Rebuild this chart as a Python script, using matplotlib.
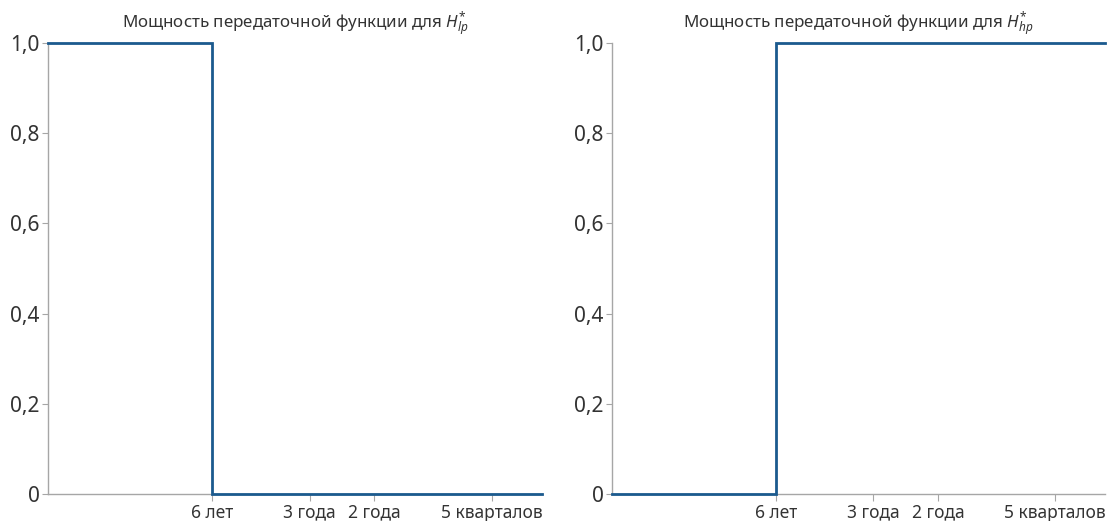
import matplotlib
matplotlib.use("Agg")
import matplotlib.pyplot as plt

plt.rcParams['font.family'] = ['Noto Sans', 'DejaVu Sans']
plt.rcParams['mathtext.fontset'] = 'custom'
plt.rcParams['mathtext.it'] = 'Noto Sans:italic'
plt.rcParams['mathtext.rm'] = 'Noto Sans'

# x axis positions on a 0..1 scale (category-like axis, as in the source)
tick_pos = [0.333, 0.530, 0.661, 0.899]
tick_labels = ["6 лет", "3 года", "2 года", "5 кварталов"]
x_min, x_max = 0.0, 1.0
cutoff = tick_pos[0]

lp_x = [x_min, cutoff, cutoff, x_max]
lp_y = [1.0, 1.0, 0.0, 0.0]
hp_x = [x_min, cutoff, cutoff, x_max]
hp_y = [0.0, 0.0, 1.0, 1.0]

y_ticks = [0, 0.2, 0.4, 0.6, 0.8, 1.0]
y_labels = ["0", "0,2", "0,4", "0,6", "0,8", "1,0"]

titles = [r"Мощность передаточной функции для $H^{*}_{lp}$",
          r"Мощность передаточной функции для $H^{*}_{hp}$"]

line_color = "#1b5a8e"
axis_color = "#a6a6a6"
text_color = "#333333"

fig = plt.figure(figsize=(11.11, 5.21), dpi=100)
ax1 = fig.add_axes([0.0432, 0.0518, 0.4446, 0.8657])
ax2 = fig.add_axes([0.5509, 0.0518, 0.4437, 0.8657])

for ax, xs, ys, title in [(ax1, lp_x, lp_y, titles[0]), (ax2, hp_x, hp_y, titles[1])]:
    ax.plot(xs, ys, color=line_color, lw=2.0, clip_on=False, solid_joinstyle='miter', zorder=3)
    ax.set_xlim(x_min, x_max)
    ax.set_ylim(0, 1.0)
    ax.set_xticks(tick_pos)
    ax.set_xticklabels(tick_labels, fontsize=12.5, color=text_color)
    ax.set_yticks(y_ticks)
    ax.set_yticklabels(y_labels, fontsize=15, color=text_color)
    for s in ["top", "right"]:
        ax.spines[s].set_visible(False)
    for s in ["left", "bottom"]:
        ax.spines[s].set_color(axis_color)
        ax.spines[s].set_linewidth(1.0)
    ax.tick_params(axis='x', direction='out', length=5, color=axis_color, pad=2)
    ax.tick_params(axis='y', direction='out', length=4, color=axis_color, pad=2)
    ax.set_title(title, fontsize=12.2, color=text_color, pad=11)

fig.savefig("out.png", dpi=100)
